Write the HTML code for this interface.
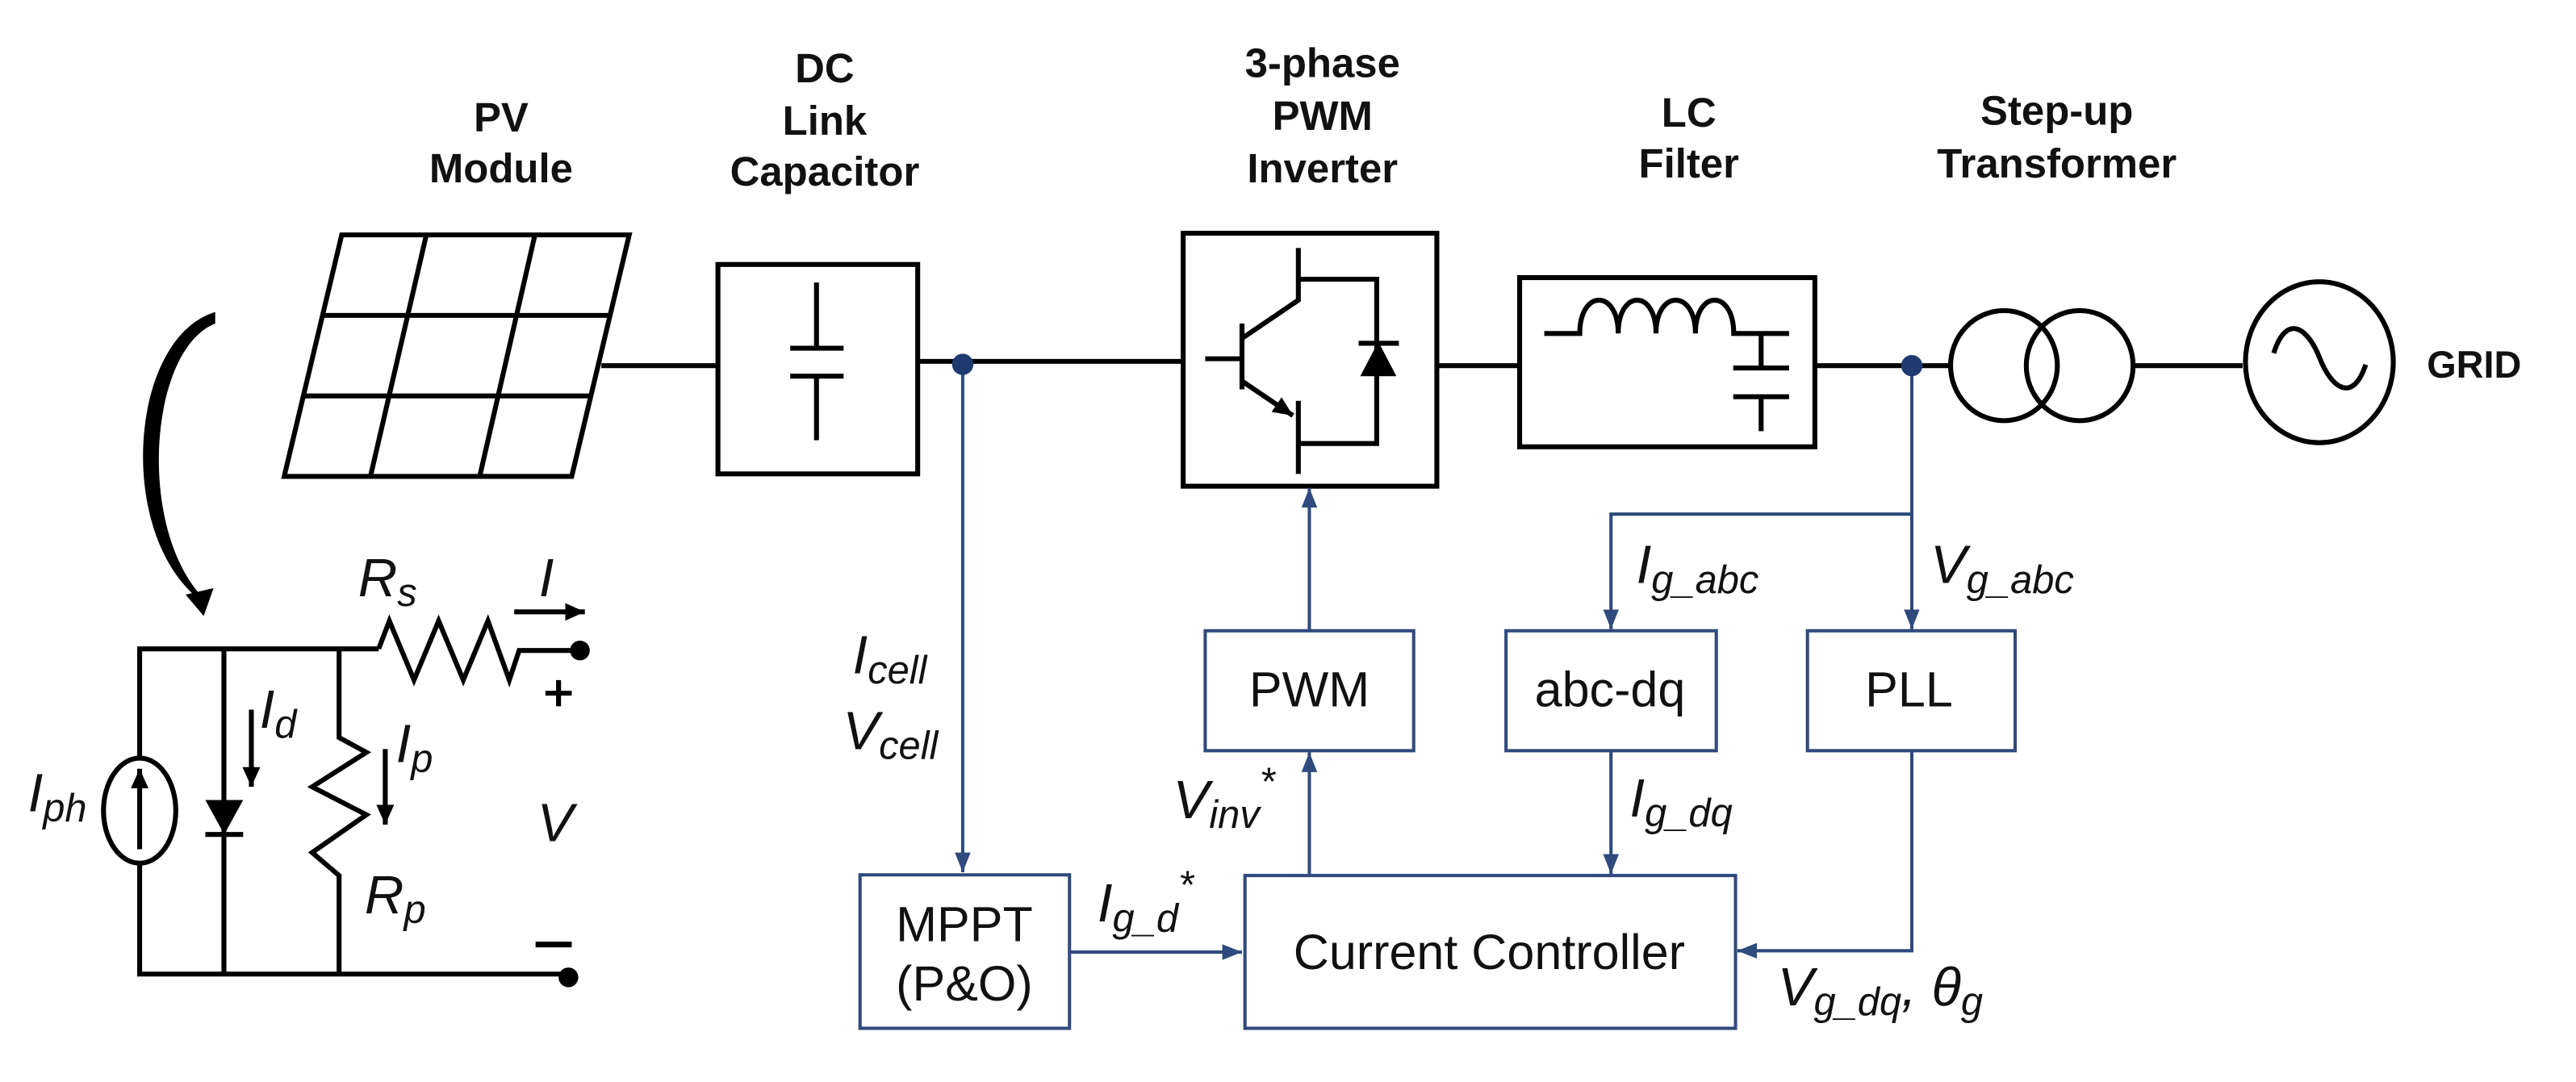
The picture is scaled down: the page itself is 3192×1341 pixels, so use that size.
<!DOCTYPE html>
<html><head><meta charset="utf-8"><style>
html,body{margin:0;padding:0;background:#fff;}
svg{display:block;}
.t{font-family:"Liberation Sans",Arial,sans-serif;font-weight:bold;font-size:25px;fill:#111;text-anchor:middle;}
.b{font-family:"Liberation Sans",Arial,sans-serif;font-size:30px;fill:#111;text-anchor:middle;}
.i{font-family:"Liberation Sans",Arial,sans-serif;font-style:italic;font-size:33px;fill:#111;}
.s{font-size:24px;}
</style></head><body>
<svg width="3192" height="1341" viewBox="0 0 1568 658.7" preserveAspectRatio="none" xmlns="http://www.w3.org/2000/svg">
<defs>
<marker id="a" markerUnits="userSpaceOnUse" markerWidth="12" markerHeight="12" refX="10" refY="5" orient="auto" viewBox="0 0 10 10"><path d="M0,1 L10,5 L0,9 Z" fill="#2f4a7c"/></marker>
<marker id="k" markerUnits="userSpaceOnUse" markerWidth="12" markerHeight="12" refX="10" refY="5" orient="auto" viewBox="0 0 10 10"><path d="M0,0.5 L10,5 L0,9.5 Z" fill="#000"/></marker>
</defs>
<!-- titles -->
<text class="t" x="305" y="80">PV</text><text class="t" x="305" y="111">Module</text>
<text class="t" x="502" y="50">DC</text><text class="t" x="502" y="82">Link</text><text class="t" x="502" y="113">Capacitor</text>
<text class="t" x="805" y="47">3-phase</text><text class="t" x="805" y="79">PWM</text><text class="t" x="805" y="111">Inverter</text>
<text class="t" x="1028" y="77">LC</text><text class="t" x="1028" y="108">Filter</text>
<text class="t" x="1252" y="76">Step-up</text><text class="t" x="1252" y="108">Transformer</text>
<text class="t" x="1506" y="230" style="font-size:23px">GRID</text>

<g stroke="#000" stroke-width="3" fill="none">
<polygon points="208,143 383,143 348,290 173,290"/>
<line x1="196.3" y1="192" x2="371.3" y2="192"/>
<line x1="184.7" y1="241" x2="359.7" y2="241"/>
<line x1="259.5" y1="143" x2="225.5" y2="290"/>
<line x1="325.6" y1="143" x2="292" y2="290"/>
<line x1="366" y1="222.6" x2="437" y2="222.6"/>
<rect x="437" y="161" width="121.6" height="127.5"/>
<line x1="497" y1="172" x2="497" y2="212"/>
<line x1="481" y1="212" x2="513.5" y2="212"/>
<line x1="481" y1="229" x2="513.5" y2="229"/>
<line x1="497" y1="229" x2="497" y2="268"/>
<line x1="558.6" y1="220" x2="720.2" y2="220"/>
<rect x="720.2" y="142" width="154.4" height="154"/>
<line x1="733.6" y1="218.4" x2="756" y2="218.4"/>
<line x1="756" y1="197" x2="756" y2="237"/>
<polyline points="756,206 790.3,182.7 790.3,151"/>
<polyline points="790.3,170 838,170 838,270 790.3,270"/>
<line x1="756" y1="232" x2="787" y2="253" marker-end="url(#k)"/>
<line x1="790.3" y1="244" x2="790.3" y2="288.5"/>
<line x1="827" y1="209" x2="851.5" y2="209"/>
<line x1="874.6" y1="222.6" x2="925" y2="222.6"/>
<rect x="925" y="169" width="179.7" height="103"/>
<path d="M940,203 L961.6,203 C961.6,176 985,176 985,203 C985,176 1008,176 1008,203 C1008,176 1032,176 1032,203 C1032,176 1055.3,176 1055.3,203 L1089,203"/>
<line x1="1072" y1="203" x2="1072" y2="224"/>
<line x1="1055" y1="224" x2="1089" y2="224"/>
<line x1="1055" y1="241.5" x2="1089" y2="241.5"/>
<line x1="1072" y1="241.5" x2="1072" y2="262.5"/>
<line x1="1104.7" y1="222.6" x2="1187" y2="222.6"/>
<ellipse cx="1219.8" cy="222.6" rx="32.5" ry="33.5"/>
<ellipse cx="1265.9" cy="222.6" rx="32.5" ry="33.5"/>
<line x1="1298.5" y1="222.6" x2="1365" y2="222.6"/>
<ellipse cx="1411.8" cy="220.5" rx="45" ry="49"/>
<path d="M1384,215 C1392,190 1405,200 1412,218 C1419,236 1432,246 1440,222"/>
<polyline points="230.5,395 85,395 85,593 346,593"/>
<polyline points="230.5,395 237,378 252,414 267,378 282,414 297,378 310,414 316,396 353,396"/>
<line x1="136.3" y1="395" x2="136.3" y2="593"/>
<polyline points="206.4,395 206.4,449 223,458 190,479 223,496 190,519 206.4,533 206.4,593"/>
<line x1="153" y1="432" x2="153" y2="479" marker-end="url(#k)"/>
<line x1="234.5" y1="456" x2="234.5" y2="502" marker-end="url(#k)"/>
<line x1="313" y1="372.5" x2="356" y2="372.5" marker-end="url(#k)"/>
<line x1="125" y1="508" x2="148" y2="508"/>
<line x1="326" y1="575" x2="348" y2="575" stroke-width="3.5"/>
<line x1="332" y1="422" x2="348" y2="422"/><line x1="340" y1="414" x2="340" y2="430"/>
</g>
<ellipse cx="85" cy="493.5" rx="22" ry="32" fill="#fff" stroke="#000" stroke-width="3"/>
<line x1="85" y1="517" x2="85" y2="468" stroke="#000" stroke-width="3" marker-end="url(#k)"/>
<polygon points="125,487 148,487 136.5,508" fill="#000"/>
<polygon points="828,229 850,229 839,208" fill="#000"/>
<circle cx="353" cy="396" r="6" fill="#000"/>
<circle cx="346" cy="595" r="6" fill="#000"/>
<path d="M131,190 C80,205 70,320 119,363 L121,361 C83,316 92,212 131,197 Z" fill="#000"/>
<polygon points="113,362 130,358 124,375" fill="#000"/>

<text class="i" x="218" y="363">R<tspan class="s" dy="6">s</tspan></text>
<text class="i" x="328" y="363">I</text>
<text class="i" x="158" y="443">I<tspan class="s" dy="6">d</tspan></text>
<text class="i" x="241" y="464">I<tspan class="s" dy="6">p</tspan></text>
<text class="i" x="17" y="494">I<tspan class="s" dy="6">ph</tspan></text>
<text class="i" x="327" y="512">V</text>
<text class="i" x="222" y="556">R<tspan class="s" dy="6">p</tspan></text>

<g stroke="#2f4a7c" stroke-width="2" fill="none">
<line x1="586" y1="222" x2="586" y2="531" marker-end="url(#a)"/>
<rect x="523.5" y="532.6" width="127.5" height="93.4"/>
<line x1="651" y1="579.6" x2="756" y2="579.6" marker-end="url(#a)"/>
<rect x="757.8" y="533" width="298.6" height="93"/>
<rect x="733.6" y="384" width="126.9" height="73"/>
<rect x="916.7" y="384" width="128" height="73"/>
<rect x="1100.2" y="384" width="126.4" height="73"/>
<line x1="797" y1="384" x2="797" y2="297" marker-end="url(#a)"/>
<line x1="797" y1="533" x2="797" y2="458" marker-end="url(#a)"/>
<line x1="980.6" y1="457" x2="980.6" y2="532" marker-end="url(#a)"/>
<polyline points="1163.7,457 1163.7,578.8 1057.5,578.8" marker-end="url(#a)"/>
<line x1="1163.7" y1="222" x2="1163.7" y2="383" marker-end="url(#a)"/>
<polyline points="1163.7,313 980.6,313 980.6,383" marker-end="url(#a)"/>
</g>
<circle cx="586" cy="221.8" r="6.5" fill="#1f3a6e"/>
<circle cx="1163.7" cy="222.6" r="6.5" fill="#1f3a6e"/>

<text class="b" x="587" y="573">MPPT</text>
<text class="b" x="587" y="609">(P&amp;O)</text>
<text class="b" x="797" y="430">PWM</text>
<text class="b" x="980" y="430">abc-dq</text>
<text class="b" x="1162" y="430">PLL</text>
<text class="b" x="906.5" y="590">Current Controller</text>

<text class="i" x="519" y="410">I<tspan class="s" dy="6">cell</tspan></text>
<text class="i" x="513" y="456">V<tspan class="s" dy="6">cell</tspan></text>
<text class="i" x="668" y="561">I<tspan class="s" dy="6">g_d</tspan><tspan dy="-20" class="s">*</tspan></text>
<text class="i" x="714" y="498">V<tspan class="s" dy="6">inv</tspan><tspan dy="-20" class="s">*</tspan></text>
<text class="i" x="996" y="355">I<tspan class="s" dy="6">g_abc</tspan></text>
<text class="i" x="1175" y="355">V<tspan class="s" dy="6">g_abc</tspan></text>
<text class="i" x="992" y="497">I<tspan class="s" dy="6">g_dq</tspan></text>
<text class="i" x="1082" y="612">V<tspan class="s" dy="6">g_dq</tspan><tspan dy="-6">, θ</tspan><tspan class="s" dy="6">g</tspan></text>
</svg>
</body></html>
